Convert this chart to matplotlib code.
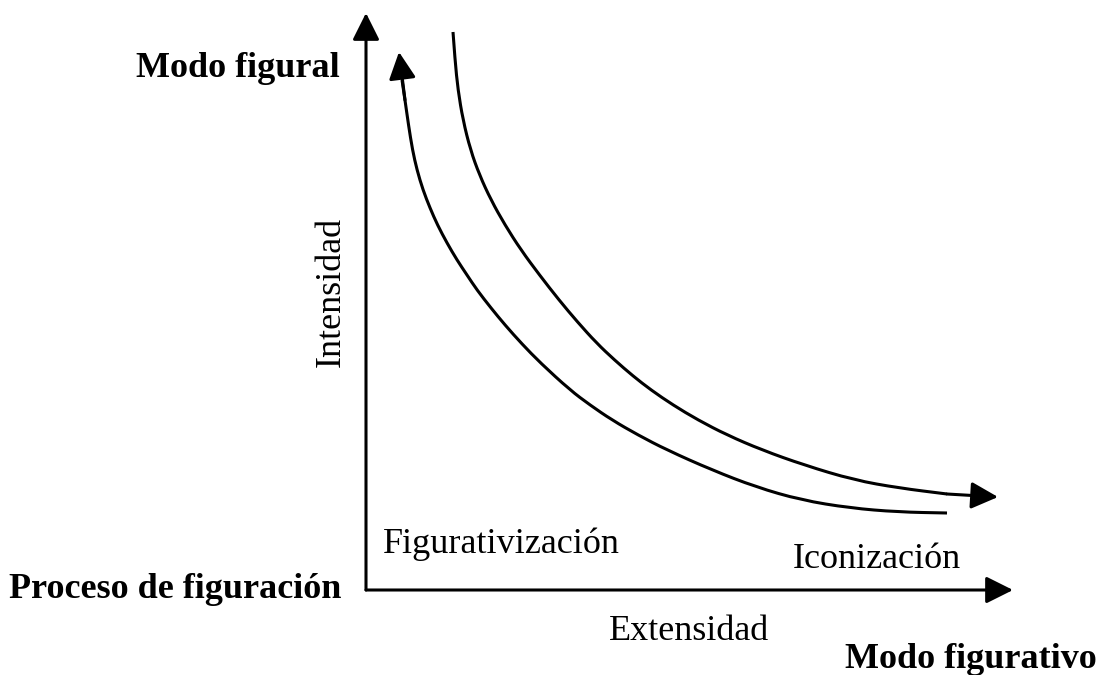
import matplotlib
matplotlib.use("Agg")
import matplotlib.pyplot as plt
from matplotlib.path import Path
from matplotlib.patches import PathPatch

# curve shapes, measured from the axis corner (x right, y up)
inner_x = [33, 36, 39, 42.5, 46.5, 51, 57, 64, 71.5, 81, 91, 101, 111, 125, 139, 156, 174.5,
           204, 224, 246, 272, 301, 346, 390, 435, 484, 532, 581]
inner_y = [538, 510, 490, 465, 440, 420, 400, 382, 365, 347, 330, 315, 300, 282, 265, 246, 227,
           200, 185, 170, 155, 140, 120, 103, 90, 82, 78, 77]

outer_x = [87, 89, 92, 97, 104.5, 113.5, 125, 139, 155, 173.5, 193, 211.5, 230.5, 248.5, 267, 285,
           307, 332, 361, 396, 438, 488, 533, 581, 632]
outer_y = [558, 530, 500, 470, 440, 415, 390, 365, 340, 315, 290, 268, 247, 230, 214, 200,
           185, 170, 155, 140, 125, 110, 102, 96, 93]

x_axis_len = 647
y_axis_len = 577


def smooth_path(xs, ys):
    """Quadratic Bezier path through the midpoints, the points act as controls."""
    pts = list(zip(xs, ys))
    verts = [pts[0]]
    codes = [Path.MOVETO]
    for i in range(1, len(pts) - 1):
        mid = ((pts[i][0] + pts[i + 1][0]) / 2, (pts[i][1] + pts[i + 1][1]) / 2)
        verts += [pts[i], mid]
        codes += [Path.CURVE3, Path.CURVE3]
    verts.append(pts[-1])
    codes.append(Path.LINETO)
    return Path(verts, codes)


fig = plt.figure(figsize=(11.16, 6.75), dpi=100)
ax = fig.add_axes([0, 0, 1, 1])
ax.set_xlim(-366, 750)
ax.set_ylim(-85, 590)
ax.axis('off')

lw = 2.2
head = dict(arrowstyle='-|>,head_length=1.0,head_width=0.5', color='black',
            lw=lw, mutation_scale=16.5, shrinkA=0, shrinkB=0)

# axes with arrows
ax.annotate('', xy=(0, y_axis_len), xytext=(0, 0), arrowprops=head)
ax.annotate('', xy=(x_axis_len, 0), xytext=(0, 0), arrowprops=head)

# inner curve: arrow at the top end
ax.add_patch(PathPatch(smooth_path(inner_x[1:], inner_y[1:]), fill=False,
                       edgecolor='black', lw=lw, capstyle='butt'))
ax.annotate('', xy=(inner_x[0], inner_y[0]), xytext=(inner_x[2], inner_y[2]), arrowprops=head)

# outer curve: arrow at the right end
ax.add_patch(PathPatch(smooth_path(outer_x[:-1], outer_y[:-1]), fill=False,
                       edgecolor='black', lw=lw, capstyle='butt'))
ax.annotate('', xy=(outer_x[-1], outer_y[-1]), xytext=(outer_x[-2], outer_y[-2]), arrowprops=head)

serif = 'Liberation Serif'
fs = 26
ax.text(-26, 513, 'Modo figural', fontfamily=serif, fontsize=fs, fontweight='bold',
        ha='right', va='baseline')
ax.text(-25, -8, 'Proceso de figuración', fontfamily=serif, fontsize=fs, fontweight='bold',
        ha='right', va='baseline')
ax.text(479, -78, 'Modo figurativo', fontfamily=serif, fontsize=fs, fontweight='bold',
        ha='left', va='baseline')
ax.text(-35, 298, 'Intensidad', fontfamily=serif, fontsize=fs, rotation=90,
        ha='center', va='center')
ax.text(17, 37, 'Figurativización', fontfamily=serif, fontsize=fs, ha='left', va='baseline')
ax.text(427, 22, 'Iconización', fontfamily=serif, fontsize=fs, ha='left', va='baseline')
ax.text(243, -50, 'Extensidad', fontfamily=serif, fontsize=fs, ha='left', va='baseline')

fig.savefig('out.png', dpi=100, facecolor='white')
